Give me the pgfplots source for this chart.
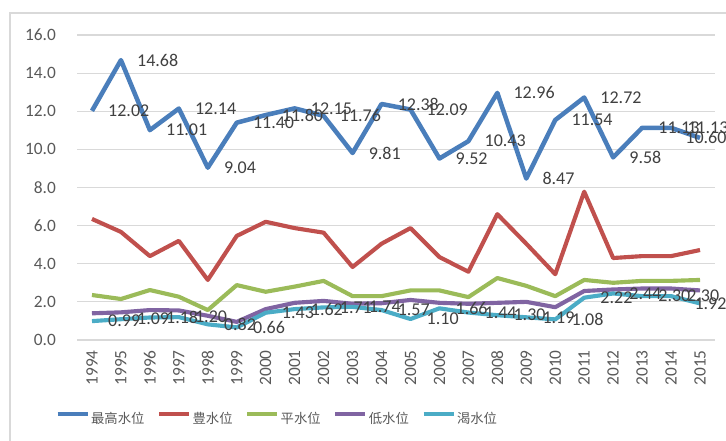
\documentclass[border=0pt]{standalone}
\usepackage{fontspec}
\setmainfont{Carlito}
\newfontfamily\cjk{Noto Sans CJK SC}
\usepackage{pgfplots}
\pgfplotsset{compat=1.18}
\usepackage{pgfplotstable}
\definecolor{sA}{HTML}{4A7EBB}
\definecolor{sB}{HTML}{C0504D}
\definecolor{sC}{HTML}{9BBB59}
\definecolor{sD}{HTML}{8064A2}
\definecolor{sE}{HTML}{4BACC6}
\definecolor{gridc}{HTML}{D9D9D9}
\definecolor{tickc}{HTML}{595959}
\definecolor{labc}{HTML}{404040}
\pgfplotstableread{
year max feng ping di ke
1994 12.02 6.35 2.36 1.40 0.99
1995 14.68 5.67 2.15 1.45 1.09
1996 11.01 4.40 2.62 1.57 1.18
1997 12.14 5.20 2.27 1.55 1.20
1998 9.04 3.15 1.57 1.27 0.82
1999 11.40 5.46 2.88 0.95 0.66
2000 11.80 6.20 2.53 1.62 1.43
2001 12.15 5.87 2.80 1.95 1.62
2002 11.76 5.63 3.10 2.05 1.71
2003 9.81 3.83 2.30 1.90 1.74
2004 12.38 5.05 2.30 1.93 1.57
2005 12.09 5.87 2.60 2.10 1.10
2006 9.52 4.35 2.60 1.95 1.66
2007 10.43 3.58 2.25 1.90 1.44
2008 12.96 6.60 3.25 1.95 1.30
2009 8.47 5.05 2.84 2.00 1.19
2010 11.54 3.45 2.30 1.72 1.08
2011 12.72 7.78 3.15 2.57 2.22
2012 9.58 4.30 3.00 2.65 2.44
2013 11.13 4.40 3.10 2.70 2.30
2014 11.13 4.40 3.10 2.70 2.30
2015 10.60 4.72 3.15 2.60 1.92
}\datatable
\begin{document}
\begin{tikzpicture}[x=0.75pt,y=0.75pt]
\path[use as bounding box] (0,0) rectangle (726,441);
\draw[draw=gridc, line width=1.1pt] (10,0) -- (10,428) -- (726,428);
\begin{axis}[
  at={(58.125pt,75.75pt)}, anchor=south west,
  scale only axis, width=477.75pt, height=228.75pt,
  xmin=1993.5, xmax=2015.5, ymin=0, ymax=16,
  xtick={1994,...,2015}, ytick={0,2,...,16},
  ymajorgrids, grid style={draw=gridc, line width=0.8pt},
  axis line style={draw=none},
  tick style={draw=none}, major tick length=0pt,
  /pgf/number format/assume math mode=true,
  ticklabel style={font=\fontsize{13}{15}\selectfont, text=tickc, inner sep=0pt},
  yticklabel style={/pgf/number format/fixed, /pgf/number format/fixed zerofill, /pgf/number format/precision=1},
  xticklabel style={rotate=90, anchor=east, /pgf/number format/1000 sep={}},
  xticklabel shift=7.5pt, yticklabel shift=16pt,
  clip=false,
  line join=round,
  every node near coord/.append style={anchor=west, xshift=12pt, inner sep=0pt, text=labc, font=\fontsize{13.5}{15}\selectfont},
  legend columns=5,
  legend cell align=left,
  legend image code/.code={\draw[#1] (0pt,3.6pt) -- (22.5pt,3.6pt);},
  legend style={at={(-0.0353,-0.259)}, anchor=west, draw=none, fill=none, inner xsep=0pt,
    font=\cjk\fontsize{10}{12}\selectfont, text=tickc,
    nodes={inner xsep=1pt},
    /tikz/every even column/.append style={column sep=8.5pt}},
]
\addplot[sA, line width=3.4pt] table[x=year,y=max]{\datatable};
\addlegendentry{最高水位}
\addplot[sB, line width=3.1pt] table[x=year,y=feng]{\datatable};
\addlegendentry{豊水位}
\addplot[sC, line width=3.1pt] table[x=year,y=ping]{\datatable};
\addlegendentry{平水位}
\addplot[sD, line width=3.1pt] table[x=year,y=di]{\datatable};
\addlegendentry{低水位}
\addplot[sE, line width=3.1pt] table[x=year,y=ke]{\datatable};
\addlegendentry{渴水位}
% data labels (on top of all lines)
\addplot[draw=none, forget plot, restrict x to domain=1994:2014,
  nodes near coords={\pgfmathprintnumber[fixed,fixed zerofill,precision=2]{\pgfplotspointmeta}}] table[x=year,y=max]{\datatable};
\addplot[draw=none, forget plot, restrict x to domain=2014.5:2015.5,
  every node near coord/.append style={anchor=east, xshift=8pt},
  nodes near coords={\pgfmathprintnumber[fixed,fixed zerofill,precision=2]{\pgfplotspointmeta}}] table[x=year,y=max]{\datatable};
\addplot[draw=none, forget plot, restrict x to domain=1994:2014,
  nodes near coords={\pgfmathprintnumber[fixed,fixed zerofill,precision=2]{\pgfplotspointmeta}}] table[x=year,y=ke]{\datatable};
\addplot[draw=none, forget plot, restrict x to domain=2014.5:2015.5,
  every node near coord/.append style={anchor=east, xshift=8pt},
  nodes near coords={\pgfmathprintnumber[fixed,fixed zerofill,precision=2]{\pgfplotspointmeta}}] table[x=year,y=ke]{\datatable};
\end{axis}
\end{tikzpicture}
\end{document}
